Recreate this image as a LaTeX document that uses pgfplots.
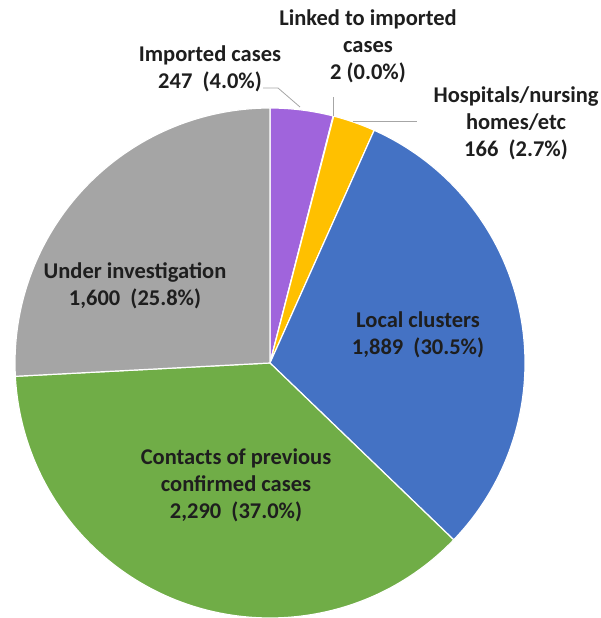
\documentclass[border=0pt]{standalone}
\usepackage{pgfplots}
\usepackage{pgfplotstable}
\pgfplotsset{compat=1.18}
\usepackage{fontspec}
\setmainfont{Carlito}

\definecolor{cImp}{HTML}{A064DC}
\definecolor{cLink}{HTML}{ED7D31}
\definecolor{cHosp}{HTML}{FFC000}
\definecolor{cLocal}{HTML}{4472C4}
\definecolor{cCont}{HTML}{70AD47}
\definecolor{cInv}{HTML}{A5A5A5}
\definecolor{cText}{HTML}{1E1E1E}
\definecolor{cLead}{HTML}{A6A6A6}

% cases by source, clockwise from 12 o'clock
\pgfplotstableread{
value
247
2
166
1889
2290
1600
}\pietable

% cumulative angles (TikZ degrees, start at 90, clockwise)
\def\total{0}
\foreach \i in {0,...,5}{
  \pgfplotstablegetelem{\i}{value}\of\pietable
  \pgfmathsetmacro\t{\total+\pgfplotsretval}
  \global\let\total\t
}
\expandafter\xdef\csname ang0\endcsname{90}
\def\cum{0}
\foreach \i in {0,...,5}{
  \pgfplotstablegetelem{\i}{value}\of\pietable
  \pgfmathsetmacro\t{\cum+\pgfplotsretval}
  \global\let\cum\t
  \pgfmathtruncatemacro\j{\i+1}
  \pgfmathsetmacro\a{90-360*(\cum/\total)}
  \expandafter\xdef\csname ang\j\endcsname{\a}
}

% centre and radius in px (y measured upward)
\def\cx{270}
\def\cy{255}
\def\rr{255}
\newcommand\slice[2]{%
  \fill[#1, draw=white, line width=1.2pt] (axis cs:\cx,\cy) -- ++(\csname ang#2\endcsname:\rr pt)
    arc[start angle=\csname ang#2\endcsname, end angle=\csname ang\the\numexpr#2+1\relax\endcsname, radius=\rr pt] -- cycle;}

\begin{document}
\begin{tikzpicture}
\useasboundingbox (0,0) rectangle (601pt,618pt);
\begin{axis}[
  hide axis, scale only axis,
  width=601pt, height=618pt,
  xmin=0, xmax=601, ymin=0, ymax=618,
  clip=false,
  nodes={font=\bfseries\fontsize{22.5}{27}\selectfont, text=cText, align=center},
]
  \slice{cImp}{0}
  \slice{cLink}{1}
  \slice{cHosp}{2}
  \slice{cLocal}{3}
  \slice{cCont}{4}
  \slice{cInv}{5}

  % leader lines
  \draw[cLead, line width=0.8pt] (axis cs:263,530) -- (axis cs:278,530) -- (axis cs:300,511);
  \draw[cLead, line width=0.8pt] (axis cs:333,521) -- (axis cs:333,502);
  \draw[cLead, line width=0.8pt] (axis cs:353,497) -- (axis cs:417,497);

  % labels
  \node at (axis cs:210,549) {Imported cases\\247 \ (4.0\%)};
  \node at (axis cs:368,572) {Linked to imported\\cases\\2 (0.0\%)};
  \node at (axis cs:516,495) {Hospitals/nursing\\homes/etc\\166 \ (2.7\%)};
  \node at (axis cs:418,283) {Local clusters\\1,889 \ (30.5\%)};
  \node at (axis cs:135,332) {Under investigation\\1,600 \ (25.8\%)};
  \node at (axis cs:236,133) {Contacts of previous\\confirmed cases\\2,290 \ (37.0\%)};
\end{axis}
\end{tikzpicture}
\end{document}
